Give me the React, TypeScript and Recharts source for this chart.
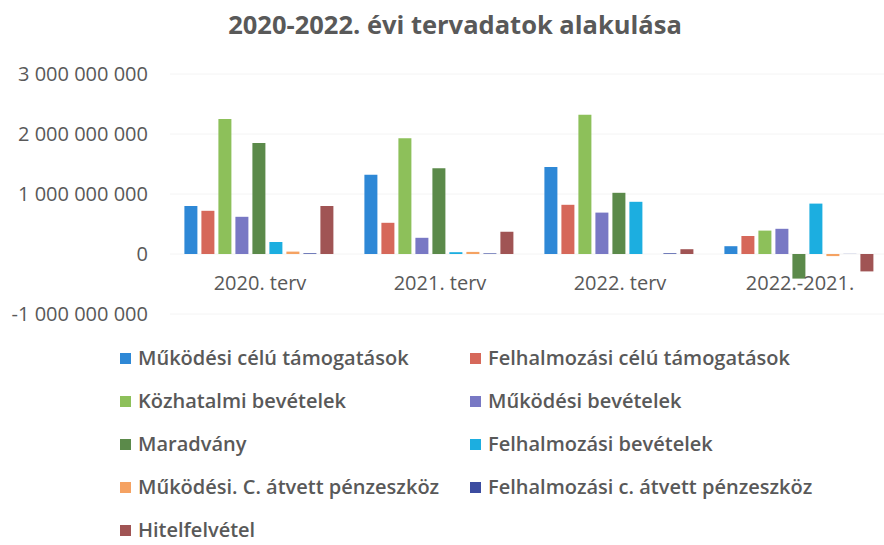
import { BarChart, Bar, XAxis, YAxis, CartesianGrid, Legend } from "recharts";

// kategóriák
const categories = ["2020. terv", "2021. terv", "2022. terv", "2022.-2021."];

// sorozatok értékei (Ft)
const mukodesiCeluTamogatasok = [800e6, 1320e6, 1450e6, 130e6];
const felhalmozasiCeluTamogatasok = [720e6, 520e6, 820e6, 300e6];
const kozhatalmiBevetelek = [2250e6, 1930e6, 2320e6, 390e6];
const mukodesiBevetelek = [620e6, 270e6, 690e6, 420e6];
const maradvany = [1850e6, 1430e6, 1020e6, -410e6];
const felhalmozasiBevetelek = [200e6, 30e6, 870e6, 840e6];
const mukodesiAtvett = [40e6, 35e6, 0, -35e6];
const felhalmozasiAtvett = [12e6, 10e6, 12e6, 2e6];
const hitelfelvetel = [800e6, 370e6, 80e6, -290e6];

const yTicks = [-1e9, 0, 1e9, 2e9, 3e9];

const SERIES = [
  { key: "s1", name: "Működési célú támogatások", values: mukodesiCeluTamogatasok, color: "#2e88d6" },
  { key: "s2", name: "Felhalmozási célú támogatások", values: felhalmozasiCeluTamogatasok, color: "#d6685a" },
  { key: "s3", name: "Közhatalmi bevételek", values: kozhatalmiBevetelek, color: "#8dc05a" },
  { key: "s4", name: "Működési bevételek", values: mukodesiBevetelek, color: "#7878c4" },
  { key: "s5", name: "Maradvány", values: maradvany, color: "#5b8a4a" },
  { key: "s6", name: "Felhalmozási bevételek", values: felhalmozasiBevetelek, color: "#1caee0" },
  { key: "s7", name: "Működési. C. átvett pénzeszköz", values: mukodesiAtvett, color: "#f5a262" },
  { key: "s8", name: "Felhalmozási c. átvett pénzeszköz", values: felhalmozasiAtvett, color: "#3c4ca0" },
  { key: "s9", name: "Hitelfelvétel", values: hitelfelvetel, color: "#a05454" },
];

const data = categories.map((cat, i) => {
  const row: Record<string, string | number> = { cat };
  SERIES.forEach((s) => {
    row[s.key] = s.values[i];
  });
  return row;
});

const TEXT = "#595959";
const FONT = "'Open Sans', sans-serif";

const formatValue = (v: number) =>
  String(v).replace(/\B(?=(\d{3})+(?!\d))/g, " ");

// kategória feliratok a nulla vonal alatt (Excel stílus)
// eslint-disable-next-line @typescript-eslint/no-explicit-any
const CategoryTick = ({ x, y, payload }: any) => (
  <text
    x={x}
    y={y}
    dy={-32}
    textAnchor="middle"
    fontSize={20}
    fill={TEXT}
    fontFamily={FONT}>
    {payload.value}
  </text>
);

const LegendBox = () => (
  <div
    style={{
      height: 201,
      paddingTop: 4,
      paddingLeft: 120,
      boxSizing: "border-box",
      display: "grid",
      gridTemplateColumns: "350px 410px",
      gridAutoRows: "20px",
      rowGap: 23,
      fontFamily: FONT,
      fontSize: 20,
      lineHeight: "20px",
      fontWeight: 600,
      color: TEXT,
      textAlign: "left",
    }}>
    {SERIES.map((s) => (
      <div key={s.key} style={{ display: "flex", alignItems: "center", whiteSpace: "nowrap" }}>
        <span
          style={{
            width: 11,
            height: 11,
            background: s.color,
            marginRight: 7,
            display: "inline-block",
          }}
        />
        {s.name}
      </div>
    ))}
  </div>
);

export default function App() {
  return (
    <div
      style={{
        position: "absolute",
        left: 0,
        top: 0,
        width: 884,
        height: 545,
        overflow: "hidden",
        background: "#fff",
        fontFamily: FONT,
      }}>
      <div
        style={{
          position: "absolute",
          left: 0,
          top: 7,
          width: 910,
          textAlign: "center",
          fontSize: 25.5,
          fontWeight: 700,
          color: TEXT,
        }}>
        2020-2022. évi tervadatok alakulása
      </div>
      <BarChart
        width={890}
        height={545}
        data={data}
        barCategoryGap="8%"
        barGap={4}
        margin={{ top: 74, right: 0, bottom: 0, left: 0 }}>
        <CartesianGrid vertical={false} stroke="#f4f4f4" />
        <XAxis
          dataKey="cat"
          height={30}
          axisLine={false}
          tickLine={false}
          tick={<CategoryTick />}
          interval={0}
        />
        <YAxis
          type="number"
          width={170}
          domain={[-1e9, 3e9]}
          ticks={yTicks}
          tickFormatter={formatValue}
          axisLine={false}
          tickLine={false}
          tickSize={0}
          tickMargin={22}
          tick={{ fontSize: 20, fill: TEXT, fontFamily: FONT }}
        />
        <Legend verticalAlign="bottom" height={201} content={<LegendBox />} />
        {SERIES.map((s) => (
          <Bar
            key={s.key}
            dataKey={s.key}
            name={s.name}
            fill={s.color}
            isAnimationActive={false}
          />
        ))}
      </BarChart>
    </div>
  );
}
